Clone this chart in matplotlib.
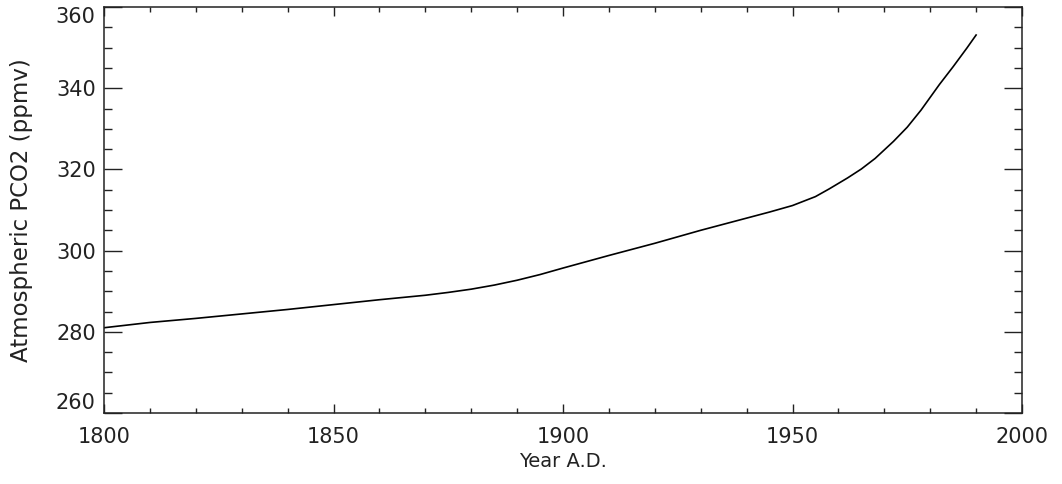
import numpy as np
import matplotlib
matplotlib.use("Agg")
import matplotlib.pyplot as plt
from matplotlib.ticker import MultipleLocator

# values
years = [1800, 1810, 1820, 1830, 1840, 1850, 1860, 1870, 1875, 1880,
         1885, 1890, 1895, 1900, 1910, 1920, 1930, 1940, 1945, 1950,
         1955, 1958, 1962, 1965, 1968, 1972, 1975, 1978, 1982, 1985,
         1988, 1990]
co2 = [281.0, 282.3, 283.3, 284.4, 285.5, 286.7, 287.9, 289.0, 289.7, 290.5,
       291.5, 292.7, 294.1, 295.7, 298.8, 301.8, 305.0, 308.0, 309.5, 311.1,
       313.3, 315.2, 317.9, 320.1, 322.7, 326.9, 330.4, 334.6, 340.9, 345.3,
       349.9, 353.1]

x_ticks = [1800, 1850, 1900, 1950, 2000]
y_ticks = [260, 280, 300, 320, 340, 360]

plt.rcParams['font.family'] = ['DejaVu Sans']

fig = plt.figure(figsize=(10.62, 4.84), dpi=100)
ax = fig.add_axes([104 / 1062, 1 - 413 / 484, 918 / 1062, 406 / 484])

ax.plot(years, co2, color='black', linewidth=1.2)

ax.set_xlim(1800, 2000)
ax.set_ylim(260, 360)
ax.set_xticks(x_ticks)
ax.set_yticks(y_ticks)
ax.xaxis.set_minor_locator(MultipleLocator(10))
ax.yaxis.set_minor_locator(MultipleLocator(5))

# IDL style inward ticks on all four sides
ax.tick_params(axis='x', which='major', direction='in', length=6.5, width=1.0,
               top=True, labelsize=15, pad=10, colors='#222222')
ax.tick_params(axis='x', which='minor', direction='in', length=3.8, width=1.0,
               top=True, colors='#222222')
ax.tick_params(axis='y', which='major', direction='in', length=13, width=1.0,
               right=True, labelsize=15, pad=6, colors='#222222')
ax.tick_params(axis='y', which='minor', direction='in', length=6, width=1.0,
               right=True, colors='#222222')
for s in ax.spines.values():
    s.set_linewidth(1.1)
    s.set_color('#222222')

# end labels on the y axis sit inside the frame, as in the original
ylabels = ax.get_yticklabels()
ylabels[0].set_va('bottom')
ylabels[-1].set_va('top')

ax.set_xlabel('Year A.D.', fontsize=14, labelpad=4, color='#222222')
ax.set_ylabel('Atmospheric PCO2 (ppmv)', fontsize=16.5, color='#222222')
ax.yaxis.set_label_coords(-0.077, 0.5)

fig.savefig('out.png', dpi=100)
